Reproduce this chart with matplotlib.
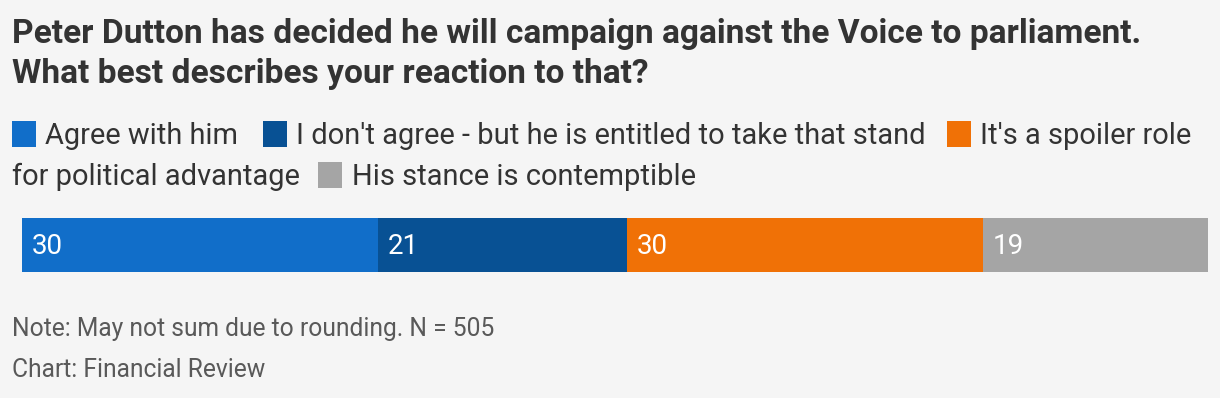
import matplotlib
matplotlib.use("Agg")
import matplotlib.pyplot as plt
from matplotlib.patches import Rectangle

# ---- data ----
categories = ["Agree with him",
              "I don't agree - but he is entitled to take that stand",
              "It's a spoiler role for political advantage",
              "His stance is contemptible"]
values = [30, 21, 30, 19]
colors = ["#116ec9", "#085194", "#f07106", "#a5a5a5"]
title_lines = ["Peter Dutton has decided he will campaign against the Voice to parliament.",
               "What best describes your reaction to that?"]
note_text = "Note: May not sum due to rounding. N = 505"
source_text = "Chart: Financial Review"

W, H = 1220, 398
BG = "#f5f5f5"
FONT = "Roboto"

fig = plt.figure(figsize=(W / 100, H / 100), dpi=100, facecolor=BG)

def fx(px):
    return px / W

def fy(py):
    return 1 - py / H

# title
fig.text(fx(12), fy(43), title_lines[0], fontsize=24.1, fontweight="bold",
         color="#333333", family=FONT, va="baseline")
fig.text(fx(12), fy(83), title_lines[1], fontsize=24.1, fontweight="bold",
         color="#333333", family=FONT, va="baseline")

# legend (manual flow layout)
leg_size = 20.9
def swatch(x, ytop, c):
    fig.patches.append(Rectangle((fx(x), fy(ytop + 26)), 24 / W, 26 / H,
                                 transform=fig.transFigure, facecolor=c,
                                 edgecolor="none"))

swatch(12, 121, colors[0])
fig.text(fx(45), fy(144), categories[0], fontsize=leg_size, color="#333333",
         family=FONT, va="baseline")
swatch(263, 121, colors[1])
fig.text(fx(296), fy(144), categories[1], fontsize=leg_size, color="#333333",
         family=FONT, va="baseline")
swatch(947, 121, colors[2])
fig.text(fx(980), fy(144), "It's a spoiler role", fontsize=leg_size,
         color="#333333", family=FONT, va="baseline")
fig.text(fx(12), fy(185), "for political advantage", fontsize=leg_size,
         color="#333333", family=FONT, va="baseline")
swatch(318, 162, colors[3])
fig.text(fx(352), fy(185), categories[3], fontsize=leg_size, color="#333333",
         family=FONT, va="baseline")

# stacked bar
ax = fig.add_axes([fx(22), fy(272), (1208 - 22) / W, 54 / H])
ax.set_facecolor(BG)
left = 0
for v, c in zip(values, colors):
    ax.barh(0, v, left=left, height=1.0, color=c, edgecolor="none")
    ax.text(left + 0.85, -0.02, str(v), color="white", fontsize=20,
            family=FONT, va="center", ha="left")
    left += v
ax.set_xlim(0, 100)
ax.set_ylim(-0.5, 0.5)
ax.axis("off")

# footer
fig.text(fx(12), fy(336), note_text, fontsize=17.7, color="#595959",
         family=FONT, va="baseline")
fig.text(fx(12), fy(377), source_text, fontsize=17.7, color="#595959",
         family=FONT, va="baseline")

fig.savefig("out.png", dpi=100, facecolor=BG)
